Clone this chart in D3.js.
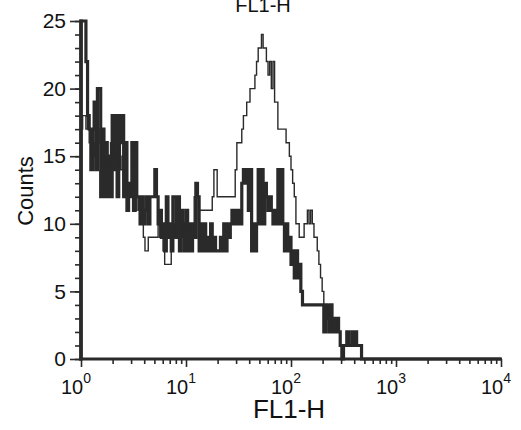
<!DOCTYPE html>
<html><head><meta charset="utf-8">
<script src="https://cdn.jsdelivr.net/npm/d3@7"></script>
<style>body{margin:0;background:#fff}svg{display:block}</style>
</head><body>
<svg id="c" width="521" height="430"></svg>
<script>
// ---- data ----
const channelsPerDecade = 64;
const xDomain = [1, 10000];
const xMajorTicks = [1, 10, 100, 1000, 10000];
const xTickExponents = ["0", "1", "2", "3", "4"];
const yMajorTicks = [0, 5, 10, 15, 20, 25];
const yMinorTicks = d3.range(0, 26);
const titleText = "FL1-H";
const xLabelText = "FL1-H";
const yLabelText = "Counts";

// thin histogram (256 channels)
const thinCounts = [
17,18,18,17,18,16,17,15,16,15,
17,16,15,16,15,14,15,14,16,15,
16,14,15,16,14,15,13,14,12,13,
12,13,12,11,12,11,10,10,9,8,
8,9,9,9,9,9,9,10,9,10,
8,7,7,7,7,8,9,10,10,11,
10,10,9,10,9,10,9,10,9,12,
13,12,11,11,11,11,11,11,11,11,
12,14,14,12,12,12,12,12,12,12,
12,12,12,12,14,16,16,16,17,18,
18,19,19,20,20,20,21,22,23,23,
24,23,23,22,21,22,20,22,19,19,
17,17,17,17,17,16,16,15,14,13,
12,10,10,9,9,9,10,10,11,10,
11,10,9,9,8,7,6,5,4,3,
4,3,2,3,2,3,2,2,1,1,
0,0,0,0,0,0,0,0,0,0,
0,0,0,0,0,0,0,0,0,0,
0,0,0,0,0,0,0,0,0,0,
0,0,0,0,0,0,0,0,0,0,
0,0,0,0,0,0,0,0,0,0,
0,0,0,0,0,0,0,0,0,0,
0,0,0,0,0,0,0,0,0,0,
0,0,0,0,0,0,0,0,0,0,
0,0,0,0,0,0,0,0,0,0,
0,0,0,0,0,0
];

// thick histogram (256 channels)
const thickCounts = [
25,25,25,22,18,17,14,17,19,14,
20,20,12,17,12,16,12,15,12,18,
14,18,12,18,16,18,12,16,11,13,
12,16,11,16,12,12,10,12,10,11,
12,10,12,12,12,14,12,10,11,9,
10,8,12,9,10,8,12,12,9,12,
8,11,10,8,11,8,10,8,10,9,
13,12,8,10,8,10,8,9,8,10,
8,9,8,8,8,9,8,10,8,10,
9,10,11,10,11,10,11,10,13,14,
13,14,11,14,8,10,8,10,14,10,
14,10,13,12,11,12,11,10,11,10,
14,10,14,10,8,10,8,9,7,8,
6,8,6,7,5,4,4,4,4,4,
4,4,4,4,4,4,4,4,2,4,
3,2,4,2,3,2,3,2,1,0,
1,1,2,1,1,2,1,2,1,1,
1,0,0,0,0,0,0,0,0,0,
0,0,0,0,0,0,0,0,0,0,
0,0,0,0,0,0,0,0,0,0,
0,0,0,0,0,0,0,0,0,0,
0,0,0,0,0,0,0,0,0,0,
0,0,0,0,0,0,0,0,0,0,
0,0,0,0,0,0,0,0,0,0,
0,0,0,0,0,0,0,0,0,0,
0,0,0,0,0,0
];

// ---- drawing ----
const FONT = "'Liberation Sans', Arial, Helvetica, sans-serif";
const INK = "#2a2a2a";
const svg = d3.select("#c");
const x = d3.scaleLog().domain(xDomain).range([81, 501]);
const y = d3.scaleLinear().domain([0, 25]).range([359, 21]);

function histPoints(counts) {
  const pts = [[xDomain[0], 0]];
  counts.forEach((c, i) => pts.push([Math.pow(10, i / channelsPerDecade), c]));
  pts.push([Math.pow(10, counts.length / channelsPerDecade), counts[counts.length - 1]]);
  pts.push([Math.pow(10, counts.length / channelsPerDecade), 0]);
  return pts;
}
const line = d3.line().x(d => x(d[0])).y(d => y(d[1])).curve(d3.curveStepAfter);

svg.append("path").attr("d", line(histPoints(thickCounts)))
  .attr("fill", "none").attr("stroke", INK).attr("stroke-width", 3.2);
svg.append("path").attr("d", line(histPoints(thinCounts)))
  .attr("fill", "none").attr("stroke", INK).attr("stroke-width", 1.4);

// Y axis ticks
const yMinor = svg.append("g").attr("transform", "translate(81,0)")
  .call(d3.axisLeft(y).tickValues(yMinorTicks).tickSize(6).tickFormat(""));
const yMajor = svg.append("g").attr("transform", "translate(81,0)")
  .call(d3.axisLeft(y).tickValues(yMajorTicks).tickSize(11).tickPadding(4));
[yMinor, yMajor].forEach(g => {
  g.select(".domain").remove();
  g.selectAll("line").attr("stroke", INK).attr("stroke-width", 1.6);
});
yMajor.selectAll("text").attr("font-family", FONT).attr("font-size", 21).attr("fill", "#111");

// X axis ticks
const xMinorVals = [];
[1, 10, 100, 1000].forEach(d => { for (let k = 2; k <= 9; k++) xMinorVals.push(d * k); });
const xMinor = svg.append("g").attr("transform", "translate(0,359)")
  .call(d3.axisBottom(x).tickValues(xMinorVals).tickSize(5).tickFormat(""));
const xMajor = svg.append("g").attr("transform", "translate(0,359)")
  .call(d3.axisBottom(x).tickValues(xMajorTicks).tickSize(8).tickFormat(""));
[xMinor, xMajor].forEach(g => {
  g.select(".domain").remove();
  g.selectAll("line").attr("stroke", INK).attr("stroke-width", 1.6);
});
xMajorTicks.forEach((v, i) => {
  const t = svg.append("text").attr("x", x(v) - 5).attr("y", 394)
    .attr("text-anchor", "middle").attr("font-family", FONT).attr("font-size", 20).attr("fill", "#111");
  t.append("tspan").text("10");
  t.append("tspan").attr("font-size", 14).attr("dy", -11).text(xTickExponents[i]);
});

// axis lines
svg.append("line").attr("x1", 81).attr("x2", 81).attr("y1", 19.5).attr("y2", 360.5)
  .attr("stroke", INK).attr("stroke-width", 3.6);
svg.append("line").attr("x1", 79).attr("x2", 502).attr("y1", 359).attr("y2", 359)
  .attr("stroke", INK).attr("stroke-width", 3);

// labels
svg.append("text").attr("x", 263).attr("y", 12).attr("text-anchor", "middle")
  .attr("font-family", FONT).attr("font-size", 20).attr("fill", "#111").text(titleText);
svg.append("text").attr("x", 289).attr("y", 418).attr("text-anchor", "middle")
  .attr("font-family", FONT).attr("font-size", 26).attr("fill", "#111").text(xLabelText);
svg.append("text").attr("transform", "translate(33,191) rotate(-90)").attr("text-anchor", "middle")
  .attr("font-family", FONT).attr("font-size", 22).attr("fill", "#111").text(yLabelText);
</script>
</body></html>
